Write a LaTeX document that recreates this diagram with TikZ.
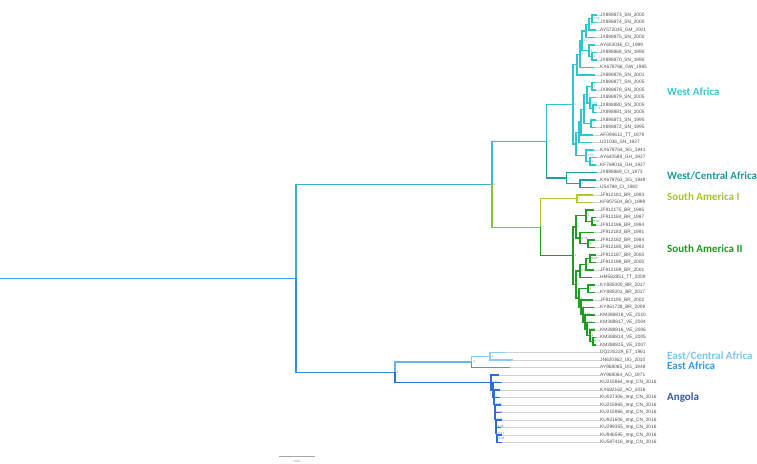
\documentclass[tikz,border=0pt]{standalone}
\usepackage{fontspec}
\setmainfont{Liberation Sans}
\newfontfamily\calib{Carlito}
\usetikzlibrary{calc}
\definecolor{cROOT}{HTML}{3EA2E4}
\definecolor{cTOP}{HTML}{38B2CC}
\definecolor{cBOT}{HTML}{2F8FDE}
\definecolor{cWEST}{HTML}{30BEC8}
\definecolor{cSAM}{HTML}{86C43E}
\definecolor{cWA}{HTML}{2EC6CE}
\definecolor{cWC}{HTML}{1D9FA3}
\definecolor{cSAa}{HTML}{AFC92A}
\definecolor{cSAb}{HTML}{1F9C23}
\definecolor{cE}{HTML}{62B6EE}
\definecolor{cEC}{HTML}{8CCBF2}
\definecolor{cEA}{HTML}{3A9FE6}
\definecolor{cANG}{HTML}{2B6FD2}
\definecolor{lWA}{HTML}{3CC6CC}
\definecolor{lWC}{HTML}{1A9A9A}
\definecolor{lSAa}{HTML}{A9C42A}
\definecolor{lSAb}{HTML}{1E9A1E}
\definecolor{lEC}{HTML}{80C4EE}
\definecolor{lEA}{HTML}{2E9CE6}
\definecolor{lANG}{HTML}{3558A8}
\definecolor{tipgray}{HTML}{505050}
\tikzset{
  edge/.style={line width=1.3pt},
  ext/.style={line width=0.3pt, draw=gray!35},
  tiplab/.style={anchor=west, inner sep=0pt, text=tipgray, font=\fontsize{4.8}{5}\selectfont},
  suplab/.style={anchor=west, inner sep=0pt, xshift=1.5pt, font=\fontsize{3}{3.5}\selectfont},
  region/.style={anchor=west, inner sep=0pt, font=\calib\bfseries\fontsize{11}{13}\selectfont},
  scalebar/.style={line width=1pt, draw=gray!70}
}
\newcommand\suplabel[2]{\node[suplab] (s-#1) at (#1) {#2};}
\newcommand\tiplabel[2]{\node[tiplab] (L#1) at (t#1 -| labx) {#2};\draw[ext] (t#1) -- (L#1.west);}
\begin{document}
\begin{tikzpicture}[x=1pt,y=-1pt]
\useasboundingbox (0,0) rectangle (757,463);
\fill[white] (0,0) rectangle (757,463);
\coordinate (labx) at (600,0);
% ---------- tips ----------
\coordinate (t1) at (597,15);   \coordinate (t2) at (597,22.5);
\coordinate (t3) at (596,30);   \coordinate (t4) at (595,37.5);
\coordinate (t5) at (595,45);   \coordinate (t6) at (597,52.5);
\coordinate (t7) at (597,60);   \coordinate (t8) at (594,67.5);
\coordinate (t9) at (595,75);   \coordinate (t10) at (596,82.5);
\coordinate (t11) at (596,90);  \coordinate (t12) at (596,97.5);
\coordinate (t13) at (597,105); \coordinate (t14) at (597,112.5);
\coordinate (t15) at (596,120); \coordinate (t16) at (596,127.5);
\coordinate (t17) at (593,135); \coordinate (t18) at (592,142.5);
\coordinate (t19) at (594,150); \coordinate (t20) at (596,157.5);
\coordinate (t21) at (596,165); \coordinate (t22) at (597,172.5);
\coordinate (t23) at (596,180); \coordinate (t24) at (595,187.5);
\coordinate (t25) at (593,195); \coordinate (t26) at (593,202.5);
\coordinate (t27) at (594,210); \coordinate (t28) at (596,217.5);
\coordinate (t29) at (596,225); \coordinate (t30) at (594,232.5);
\coordinate (t31) at (595,240); \coordinate (t32) at (595,247.5);
\coordinate (t33) at (596,255); \coordinate (t34) at (596,262.5);
\coordinate (t35) at (594,270); \coordinate (t36) at (592,277.5);
\coordinate (t37) at (595,285); \coordinate (t38) at (595,292.5);
\coordinate (t39) at (593,300); \coordinate (t40) at (594,307.5);
\coordinate (t41) at (595,315); \coordinate (t42) at (595,322.5);
\coordinate (t43) at (595,330); \coordinate (t44) at (596,337.5);
\coordinate (t45) at (596,345); \coordinate (t46) at (506,352.5);
\coordinate (t47) at (513,360); \coordinate (t48) at (510,367.5);
\coordinate (t49) at (499,375); \coordinate (t50) at (502,382.5);
\coordinate (t51) at (500,390); \coordinate (t52) at (500,397.5);
\coordinate (t53) at (501,405); \coordinate (t54) at (501,412.5);
\coordinate (t55) at (502,420); \coordinate (t56) at (501,427.5);
\coordinate (t57) at (502,435); \coordinate (t58) at (502,442.5);
% ---------- internal nodes ----------
\coordinate (a1) at (592,18.75); \coordinate (a2) at (589,24.4);
\coordinate (a3) at (586,30.9);  \coordinate (a4) at (592,56.25);
\coordinate (a5) at (589,50.6);  \coordinate (a6) at (582,40.8);
\coordinate (a7) at (580,54.15); \coordinate (a8) at (577,64.6);
\coordinate (b1) at (592,86.25); \coordinate (b2) at (593,108.75);
\coordinate (b3) at (590,103.1); \coordinate (b4) at (587,94.7);
\coordinate (b5) at (591,123.75);\coordinate (b6) at (584,109.2);
\coordinate (b7) at (581,122.1); \coordinate (b8) at (579,132.3);
\coordinate (b9) at (590,161.25);\coordinate (b10) at (586,155.6);
\coordinate (b11) at (576,143.95);
\coordinate (WA) at (573,104.3);
\coordinate (w1) at (580,183.75); \coordinate (WC) at (566.7,178.1);
\coordinate (W) at (546.7,141.2);
\coordinate (S1) at (577,198.75);
\coordinate (c1) at (592,221.25); \coordinate (c2) at (586,215.6);
\coordinate (c3) at (588,243.75); \coordinate (c4) at (580,238.1);
\coordinate (c5) at (576,226.85);
\coordinate (d1) at (590,258.75); \coordinate (d2) at (586,264.4);
\coordinate (d3) at (580,270.95);
\coordinate (e1) at (588,288.75); \coordinate (e6) at (593,341.25);
\coordinate (e5) at (590,335.6);  \coordinate (e4) at (587,329.05);
\coordinate (e3) at (585,322.0);  \coordinate (e2) at (583,314.75);
\coordinate (e7) at (581,307.4);  \coordinate (e8) at (579,298.1);
\coordinate (d4) at (576,284.5);
\coordinate (S2) at (573,255.7);
\coordinate (SA) at (540.7,227.2);
\coordinate (TOP) at (492,184.2);
\coordinate (EC) at (490,356.25); \coordinate (E) at (471.7,361.9);
\coordinate (A8) at (497,438.75); \coordinate (A7) at (496.5,433.1);
\coordinate (A6) at (496,426.55); \coordinate (A5) at (495.5,419.5);
\coordinate (A4) at (495,412.25); \coordinate (A3) at (494.5,404.9);
\coordinate (A2) at (494,397.45); \coordinate (A1) at (493,390);
\coordinate (A0) at (491,382.5);
\coordinate (EA) at (395,372.2);
\coordinate (R) at (296,278.2);
\coordinate (root0) at (0,278.2);
% ---------- tip labels ----------
\tiplabel{1}{JX898873\_SN\_2000}
\tiplabel{2}{JX898874\_SN\_2000}
\tiplabel{3}{AY572035\_GM\_2001}
\tiplabel{4}{JX898875\_SN\_2000}
\tiplabel{5}{AY603036\_CI\_1999}
\tiplabel{6}{JX898868\_SN\_1995}
\tiplabel{7}{JX898870\_SN\_1995}
\tiplabel{8}{KX678766\_GW\_1985}
\tiplabel{9}{JX898876\_SN\_2001}
\tiplabel{10}{JX898877\_SN\_2005}
\tiplabel{11}{JX898878\_SN\_2005}
\tiplabel{12}{JX898879\_SN\_2005}
\tiplabel{13}{JX898880\_SN\_2005}
\tiplabel{14}{JX898881\_SN\_2005}
\tiplabel{15}{JX898871\_SN\_1995}
\tiplabel{16}{JX898872\_SN\_1995}
\tiplabel{17}{AF094612\_TT\_1979}
\tiplabel{18}{U21036\_SN\_1927}
\tiplabel{19}{KX678764\_SG\_1941}
\tiplabel{20}{AY640589\_GH\_1927}
\tiplabel{21}{KF769016\_GH\_1927}
\tiplabel{22}{JX898869\_CI\_1973}
\tiplabel{23}{KX678763\_SG\_1948}
\tiplabel{24}{U54798\_CI\_1982}
\tiplabel{25}{JF912181\_BR\_1983}
\tiplabel{26}{KF907504\_BO\_1999}
\tiplabel{27}{JF912175\_BR\_1985}
\tiplabel{28}{JF912184\_BR\_1987}
\tiplabel{29}{JF912186\_BR\_1994}
\tiplabel{30}{JF912183\_BR\_1991}
\tiplabel{31}{JF912182\_BR\_1984}
\tiplabel{32}{JF912185\_BR\_1992}
\tiplabel{33}{JF912187\_BR\_2000}
\tiplabel{34}{JF912188\_BR\_2000}
\tiplabel{35}{JF912189\_BR\_2001}
\tiplabel{36}{HM582851\_TT\_2009}
\tiplabel{37}{KY885000\_BR\_2017}
\tiplabel{38}{KY885001\_BR\_2017}
\tiplabel{39}{JF912190\_BR\_2002}
\tiplabel{40}{KY861728\_BR\_2009}
\tiplabel{41}{KM388818\_VE\_2010}
\tiplabel{42}{KM388817\_VE\_2004}
\tiplabel{43}{KM388816\_VE\_2006}
\tiplabel{44}{KM388814\_VE\_2005}
\tiplabel{45}{KM388815\_VE\_2007}
\tiplabel{46}{DQ235229\_ET\_1961}
\tiplabel{47}{JN620362\_UG\_2010}
\tiplabel{48}{AY968065\_UG\_1948}
\tiplabel{49}{AY968064\_AO\_1971}
\tiplabel{50}{KU215964\_Imp\_CN\_2016}
\tiplabel{51}{KX682162\_AO\_2016}
\tiplabel{52}{KU027306\_Imp\_CN\_2016}
\tiplabel{53}{KU215965\_Imp\_CN\_2016}
\tiplabel{54}{KU215966\_Imp\_CN\_2016}
\tiplabel{55}{KU921606\_Imp\_CN\_2016}
\tiplabel{56}{KU299355\_Imp\_CN\_2016}
\tiplabel{57}{KU946595\_Imp\_CN\_2016}
\tiplabel{58}{KU587416\_Imp\_CN\_2016}
% ---------- backbone ----------
\draw[edge, cROOT] (root0) -- (R);
\draw[edge, cTOP] (R) |- (TOP);
\draw[edge, cBOT] (R) |- (EA);
\draw[edge, cWEST] (TOP) |- (W);
\draw[edge, cSAM] (TOP) |- (SA);
\draw[edge, cWA] (W) |- (WA);
\draw[edge, cWC] (W) |- (WC);
\draw[edge, cSAa] (SA) |- (S1);
\draw[edge, cSAb] (SA) |- (S2);
\draw[edge, cE] (EA) |- (E);
\draw[edge, cANG] (EA) |- (A0);
% ---------- West Africa ----------
\begin{scope}[edge, cWA]
\draw (a1) |- (t1) (a1) |- (t2);
\draw (a2) |- (a1) (a2) |- (t3);
\draw (a3) |- (a2) (a3) |- (t4);
\draw (a4) |- (t6) (a4) |- (t7);
\draw (a5) |- (t5) (a5) |- (a4);
\draw (a6) |- (a3) (a6) |- (a5);
\draw (a7) |- (a6) (a7) |- (t8);
\draw (a8) |- (a7) (a8) |- (t9);
\draw (b1) |- (t10) (b1) |- (t11);
\draw (b2) |- (t13) (b2) |- (t14);
\draw (b3) |- (t12) (b3) |- (b2);
\draw (b4) |- (b1) (b4) |- (b3);
\draw (b5) |- (t15) (b5) |- (t16);
\draw (b6) |- (b4) (b6) |- (b5);
\draw (b7) |- (b6) (b7) |- (t17);
\draw (b8) |- (b7) (b8) |- (t18);
\draw (b9) |- (t20) (b9) |- (t21);
\draw (b10) |- (t19) (b10) |- (b9);
\draw (b11) |- (b8) (b11) |- (b10);
\draw (WA) |- (a8) (WA) |- (b11);
\end{scope}
% ---------- West/Central Africa ----------
\begin{scope}[edge, cWC]
\draw (w1) |- (t23) (w1) |- (t24);
\draw (WC) |- (t22) (WC) |- (w1);
\end{scope}
% ---------- South America I ----------
\begin{scope}[edge, cSAa]
\draw (S1) |- (t25) (S1) |- (t26);
\end{scope}
% ---------- South America II ----------
\begin{scope}[edge, cSAb]
\draw (c1) |- (t28) (c1) |- (t29);
\draw (c2) |- (t27) (c2) |- (c1);
\draw (c3) |- (t31) (c3) |- (t32);
\draw (c4) |- (t30) (c4) |- (c3);
\draw (c5) |- (c2) (c5) |- (c4);
\draw (d1) |- (t33) (d1) |- (t34);
\draw (d2) |- (d1) (d2) |- (t35);
\draw (d3) |- (d2) (d3) |- (t36);
\draw (e1) |- (t37) (e1) |- (t38);
\draw (e6) |- (t44) (e6) |- (t45);
\draw (e5) |- (t43) (e5) |- (e6);
\draw (e4) |- (t42) (e4) |- (e5);
\draw (e3) |- (t41) (e3) |- (e4);
\draw (e2) |- (t40) (e2) |- (e3);
\draw (e7) |- (t39) (e7) |- (e2);
\draw (e8) |- (e1) (e8) |- (e7);
\draw (d4) |- (d3) (d4) |- (e8);
\draw (S2) |- (c5) (S2) |- (d4);
\end{scope}
% ---------- East Africa ----------
\draw[edge, cEC] (E) |- (EC);
\draw[edge, cEC] (EC) |- (t46) (EC) |- (t47);
\draw[edge, cEA] (E) |- (t48);
% ---------- Angola ----------
\begin{scope}[edge, cANG, line width=1.1pt]
\draw (A8) |- (t57) (A8) |- (t58);
\draw (A7) |- (t56) (A7) |- (A8);
\draw (A6) |- (t55) (A6) |- (A7);
\draw (A5) |- (t54) (A5) |- (A6);
\draw (A4) |- (t53) (A4) |- (A5);
\draw (A3) |- (t52) (A3) |- (A4);
\draw (A2) |- (t51) (A2) |- (A3);
\draw (A1) |- (t50) (A1) |- (A2);
\draw (A0) |- (t49) (A0) |- (A1);
\end{scope}
% ---------- support values ----------
\begin{scope}[text=gray!80!black]
\suplabel{EA}{1} \suplabel{TOP}{1} \suplabel{E}{1} \suplabel{EC}{1}
\end{scope}
\begin{scope}[text=cWA!70!gray]
\suplabel{a1}{0.62} \suplabel{a2}{1} \suplabel{a3}{1} \suplabel{a4}{1}
\suplabel{a5}{1} \suplabel{a6}{0.9} \suplabel{a7}{1} \suplabel{a8}{1}
\suplabel{b1}{1} \suplabel{b2}{0.72} \suplabel{b3}{0.63} \suplabel{b4}{1}
\suplabel{b5}{1} \suplabel{b6}{1} \suplabel{b7}{1} \suplabel{b8}{1}
\suplabel{b9}{1} \suplabel{b10}{0.85} \suplabel{b11}{1} \suplabel{WA}{1}
\suplabel{W}{1}
\end{scope}
\begin{scope}[text=cWC!70!gray]
\suplabel{WC}{1} \suplabel{w1}{1}
\end{scope}
\begin{scope}[text=cSAa!70!gray]
\suplabel{S1}{1} \suplabel{SA}{1}
\end{scope}
\begin{scope}[text=cSAb!70!gray]
\suplabel{S2}{1} \suplabel{c1}{0.93} \suplabel{c2}{1} \suplabel{c3}{1}
\suplabel{c4}{0.75} \suplabel{c5}{1} \suplabel{d1}{0.85} \suplabel{d2}{1}
\suplabel{d3}{0.94} \suplabel{e1}{1} \suplabel{e2}{0.82} \suplabel{e3}{0.81}
\suplabel{e4}{0.88} \suplabel{e5}{1} \suplabel{e6}{0.77} \suplabel{e7}{1}
\suplabel{e8}{1} \suplabel{d4}{1}
\end{scope}
\begin{scope}[text=cANG!60!gray]
\suplabel{A0}{0.52} \suplabel{A1}{1} \suplabel{A2}{1} \suplabel{A3}{0.64}
\suplabel{A4}{0.47} \suplabel{A5}{0.52} \suplabel{A6}{0.46} \suplabel{A7}{0.27}
\suplabel{A8}{0.24}
\end{scope}
% ---------- clade labels ----------
\node[region, text=lWA] (rWA) at (667,92) {West Africa};
\node[region, text=lWC] (rWC) at (667,175.5) {West/Central Africa};
\node[region, text=lSAa] (rSAa) at (667,196.5) {South America I};
\node[region, text=lSAb] (rSAb) at (667,249) {South America II};
\node[region, text=lEC] (rEC) at (667,356) {East/Central Africa};
\node[region, text=lEA] (rEA) at (667,366) {East Africa};
\node[region, text=lANG] (rANG) at (667,398) {Angola};
% ---------- scale bar ----------
\coordinate (sb1) at (279,456);
\coordinate (sb2) at (315,456);
\draw[scalebar] (sb1) -- (sb2);
\node[inner sep=0pt, text=gray, font=\fontsize{3}{3.5}\selectfont] (sbl) at (297,461) {0.02};
\end{tikzpicture}
\end{document}
